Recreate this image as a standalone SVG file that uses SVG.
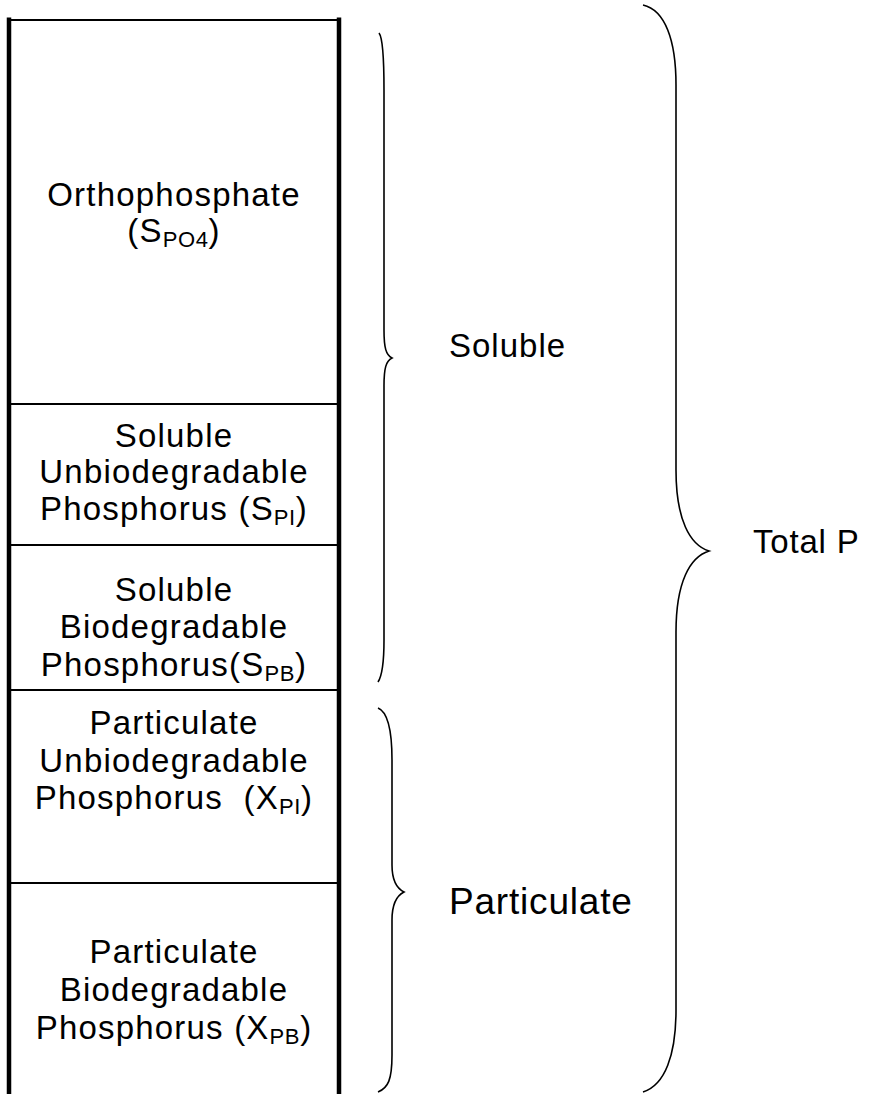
<svg xmlns="http://www.w3.org/2000/svg" width="873" height="1094" viewBox="0 0 873 1094">
<style>
text{font-family:"Liberation Sans",Arial,sans-serif;font-size:33px;fill:#000}
.c{text-anchor:middle;letter-spacing:1.2px}
.sub{font-size:22px;letter-spacing:0.6px}
.wall{stroke:#000;stroke-width:4.5;fill:none}
.div{stroke:#000;stroke-width:2;fill:none}
.brace{stroke:#000;stroke-width:1.6;fill:none}
</style>
<rect width="873" height="1094" fill="#fff"/>
<g id="column">
<line class="div" x1="9" y1="20" x2="339" y2="20"/>
<line class="wall" x1="9" y1="17.5" x2="9" y2="1094"/>
<line class="wall" x1="339" y1="17.5" x2="339" y2="1094"/>
</g>
<g id="orthophosphate">
<text class="c" x="174" y="206">Orthophosphate</text>
<text class="c" x="174" y="242">(S<tspan class="sub" dy="5">PO4</tspan><tspan dy="-5">)</tspan></text>
</g>
<g id="spi">
<line class="div" x1="9" y1="404" x2="339" y2="404"/>
<text class="c" x="174" y="447">Soluble</text>
<text class="c" x="174" y="483">Unbiodegradable</text>
<text class="c" x="174" y="520">Phosphorus (S<tspan class="sub" dy="5">PI</tspan><tspan dy="-5">)</tspan></text>
</g>
<g id="spb">
<line class="div" x1="9" y1="545" x2="339" y2="545"/>
<text class="c" x="174" y="601">Soluble</text>
<text class="c" x="174" y="638">Biodegradable</text>
<text class="c" x="174" y="676">Phosphorus(S<tspan class="sub" dy="5">PB</tspan><tspan dy="-5">)</tspan></text>
</g>
<g id="xpi">
<line class="div" x1="9" y1="690" x2="339" y2="690"/>
<text class="c" x="174" y="734">Particulate</text>
<text class="c" x="174" y="772">Unbiodegradable</text>
<text class="c" x="174" y="809" xml:space="preserve">Phosphorus  (X<tspan class="sub" dy="5">PI</tspan><tspan dy="-5">)</tspan></text>
</g>
<g id="xpb">
<line class="div" x1="9" y1="883" x2="339" y2="883"/>
<text class="c" x="174" y="963">Particulate</text>
<text class="c" x="174" y="1001">Biodegradable</text>
<text class="c" x="174" y="1039">Phosphorus (X<tspan class="sub" dy="5">PB</tspan><tspan dy="-5">)</tspan></text>
</g>
<g id="connectors">
<path class="brace" d="M379,33 C383,38 384,60 384,90 L384,330 C384,348 386,355 392,358 C386,361 384,368 384,386 L384,640 C384,665 382,676 378,682"/>
<path class="brace" d="M378,708 C388,712 392,730 392,760 L392,865 C392,880 396,888 404,892 C396,896 392,904 392,920 L392,1055 C392,1080 388,1088 378,1092"/>
<path class="brace" d="M643,5 C665,10 676,40 676,85 L676,470 C676,520 690,545 709,551 C690,557 676,582 676,632 L676,1010 C676,1055 665,1085 643,1092"/>
</g>
<g id="labels">
<text x="449" y="357" style="letter-spacing:1px">Soluble</text>
<text x="449" y="914" style="font-size:37px;letter-spacing:0.8px">Particulate</text>
<text x="753" y="553" style="letter-spacing:0.8px">Total P</text>
</g>
</svg>
